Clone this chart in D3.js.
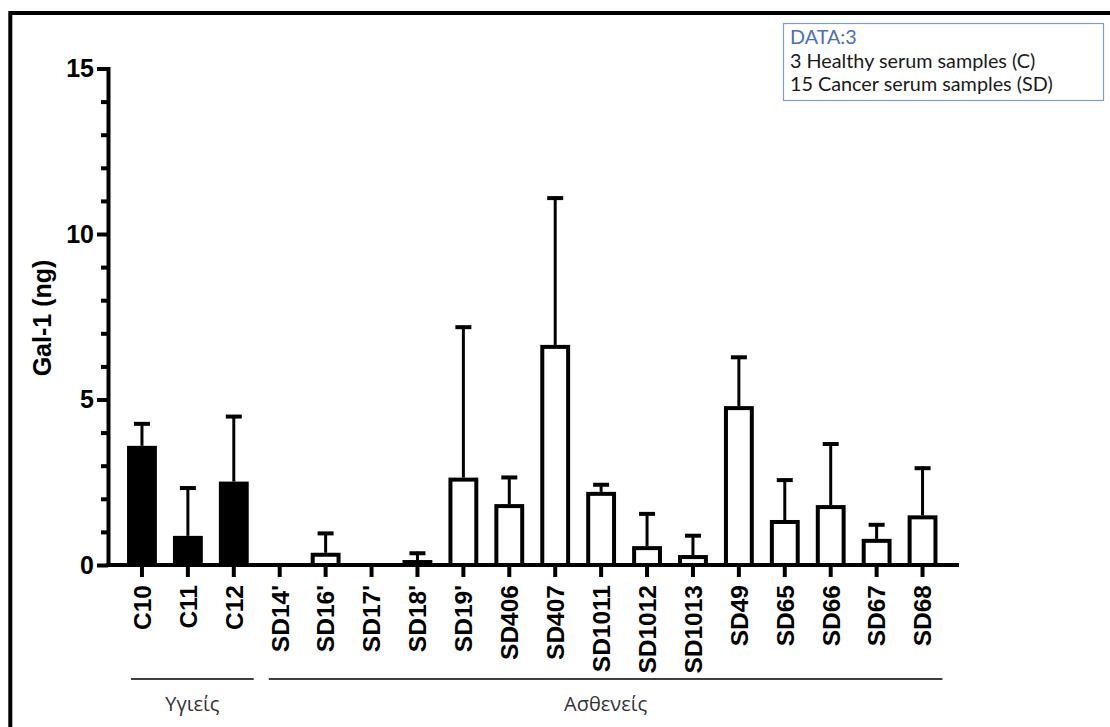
<!DOCTYPE html>
<html>
<head>
<meta charset="utf-8">
<script src="https://cdn.jsdelivr.net/npm/d3@7"></script>
<style>
  body { margin: 0; background: #fff; }
  svg { display: block; }
</style>
</head>
<body>
<script>
var width = 1110;
var height = 727;

// data
var categories = ['C10', 'C11', 'C12', "SD14'", "SD16'", "SD17'", "SD18'", "SD19'", 'SD406', 'SD407',
                  'SD1011', 'SD1012', 'SD1013', 'SD49', 'SD65', 'SD66', 'SD67', 'SD68'];
var means  = [3.6, 0.88, 2.52, 0, 0.37, 0, 0.15, 2.64, 1.84, 6.65, 2.21, 0.57, 0.30, 4.80, 1.36, 1.81, 0.79, 1.50];
var errors = [0.71, 1.49, 2.01, 0, 0.63, 0, 0.25, 4.59, 0.85, 4.48, 0.26, 1.02, 0.63, 1.52, 1.25, 1.89, 0.47, 1.47];
var healthy = ['C10', 'C11', 'C12'];
var majorTicks = [0, 5, 10, 15];
var minorTicks = [1, 2, 3, 4, 6, 7, 8, 9, 11, 12, 13, 14];
var groupNames = ['Υγιείς', 'Ασθενείς'];
var groupFirst = ['C10', "SD14'"];
var groupLast = ['C12', 'SD68'];
var legendLines = ['DATA:3', '3 Healthy serum samples (C)', '15 Cancer serum samples (SD)'];

var boldFont = '"Liberation Sans", Arial, sans-serif';

var x = d3.scaleBand().domain(categories).range([119, 945.5]).paddingInner(0.35).paddingOuter(0.175);
var y = d3.scaleLinear().domain([0, 15]).range([565, 68.5]);

var svg = d3.select('body')
  .append('svg')
  .attr('width', width)
  .attr('height', height);

// frame lines (left + top)
svg.append('path')
  .attr('d', 'M10.3 727 V13 H1110')
  .style('fill', 'none')
  .style('stroke', '#000')
  .style('stroke-width', 4);

// legend box
var legend = svg.append('g').attr('class', 'legend');
legend.append('rect')
  .attr('x', 783.5).attr('y', 23.5)
  .attr('width', 320).attr('height', 77)
  .style('fill', '#fff')
  .style('stroke', '#7f9cc2')
  .style('stroke-width', 1.2);
legend.selectAll('text')
  .data(legendLines)
  .enter()
  .append('text')
  .attr('x', 790)
  .attr('y', function (d, i) { return 44 + i * 23.5; })
  .style('font-family', 'Lato, "Open Sans", sans-serif')
  .style('font-size', '19.8px')
  .style('fill', function (d, i) { return i === 0 ? '#4a72b4' : '#1a1a1a'; })
  .text(function (d) { return d; });

// bars
var bw = x.bandwidth();
var bars = svg.append('g').attr('class', 'bars');
categories.forEach(function (c, i) {
  var filled = healthy.indexOf(c) >= 0;
  if (means[i] <= 0) return;
  if (filled) {
    bars.append('rect')
      .attr('x', x(c))
      .attr('y', y(means[i]))
      .attr('width', bw)
      .attr('height', y(0) - y(means[i]))
      .style('fill', '#000');
  } else {
    bars.append('rect')
      .attr('x', x(c) + 2)
      .attr('y', y(means[i]) + 2)
      .attr('width', bw - 4)
      .attr('height', Math.max(0, y(0) - y(means[i]) - 2))
      .style('fill', '#fff')
      .style('stroke', '#000')
      .style('stroke-width', 4);
  }
  if (errors[i] > 0) {
    var cx = x(c) + bw / 2;
    bars.append('line')
      .attr('x1', cx).attr('x2', cx)
      .attr('y1', y(means[i]))
      .attr('y2', y(means[i] + errors[i]))
      .style('stroke', '#000')
      .style('stroke-width', 3);
    bars.append('line')
      .attr('x1', cx - 8).attr('x2', cx + 8)
      .attr('y1', y(means[i] + errors[i]) + 1.5)
      .attr('y2', y(means[i] + errors[i]) + 1.5)
      .style('stroke', '#000')
      .style('stroke-width', 4);
  }
});

// y axis
var yAxis = svg.append('g')
  .attr('class', 'y-axis')
  .attr('transform', 'translate(108,0)')
  .call(d3.axisLeft(y).tickValues(majorTicks).tickSize(11).tickSizeOuter(0).tickPadding(3));
svg.append('g')
  .attr('class', 'y-minor')
  .attr('transform', 'translate(108,0)')
  .call(d3.axisLeft(y).tickValues(minorTicks).tickSize(7).tickFormat(''))
  .call(function (g) { g.select('.domain').remove(); });
svg.selectAll('.y-axis path, .y-axis line, .y-minor line')
  .style('stroke', '#000')
  .style('stroke-width', 4);
yAxis.select('.domain').attr('d', 'M0.5,' + (y(0) + 2) + 'V' + (y(15) - 1.5));
yAxis.selectAll('text')
  .style('font-family', boldFont)
  .style('font-weight', 'bold')
  .style('font-size', '25px')
  .style('fill', '#000');

// y title
svg.append('text')
  .attr('transform', 'translate(51,318) rotate(-90)')
  .attr('text-anchor', 'middle')
  .style('font-family', boldFont)
  .style('font-weight', 'bold')
  .style('font-size', '25px')
  .text('Gal-1 (ng)');

// x axis
var xAxis = svg.append('g')
  .attr('class', 'x-axis')
  .attr('transform', 'translate(0,565)')
  .call(d3.axisBottom(x).tickSize(12).tickSizeOuter(0));
xAxis.select('.domain').remove();
xAxis.selectAll('line')
  .style('stroke', '#000')
  .style('stroke-width', 4);
xAxis.selectAll('text')
  .attr('transform', 'rotate(-90)')
  .attr('x', -20)
  .attr('y', 0)
  .attr('dy', '0.36em')
  .attr('text-anchor', 'end')
  .style('font-family', boldFont)
  .style('font-weight', 'bold')
  .style('font-size', '24.5px')
  .style('fill', '#000');
svg.append('line')
  .attr('x1', 106).attr('x2', 959)
  .attr('y1', 565).attr('y2', 565)
  .style('stroke', '#000')
  .style('stroke-width', 4);

// group brackets
var groups = svg.append('g').attr('class', 'groups');
groupNames.forEach(function (name, i) {
  var x1 = x(groupFirst[i]) + 4;
  var x2 = x(groupLast[i]) + bw + 5;
  groups.append('line')
    .attr('x1', x1).attr('x2', x2)
    .attr('y1', 679).attr('y2', 679)
    .style('stroke', '#000')
    .style('stroke-width', 1.3);
  groups.append('text')
    .attr('x', (x1 + x2) / 2)
    .attr('y', 711)
    .attr('text-anchor', 'middle')
    .style('font-family', '"Open Sans", "Noto Sans", sans-serif')
    .style('font-size', '20px')
    .style('fill', '#333')
    .text(name);
});
</script>
</body>
</html>
